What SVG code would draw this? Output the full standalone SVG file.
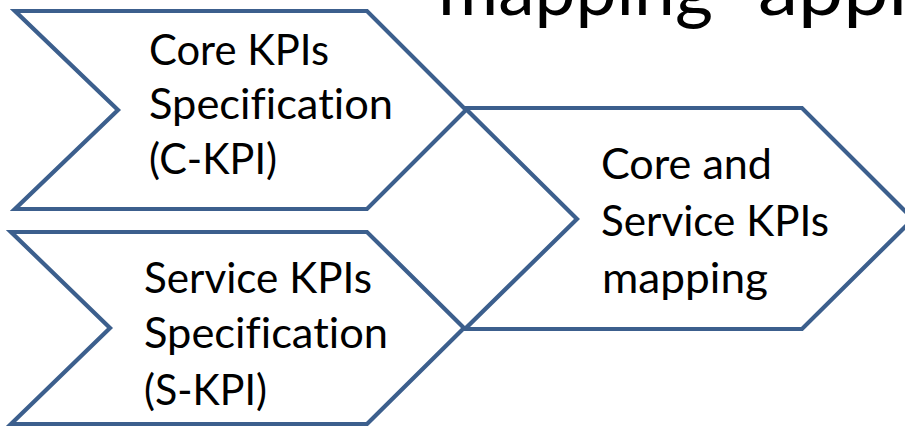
<svg xmlns="http://www.w3.org/2000/svg" width="905" height="426" viewBox="0 0 905 426">
<style>
.chev{fill:#ffffff;stroke:#3C5F8D;stroke-width:4.2;stroke-linejoin:miter}
.lbl{font-family:Lato,"Open Sans","Liberation Sans",sans-serif;font-size:42px;fill:#000000;font-variant-ligatures:none;font-feature-settings:"liga" 0}
.title{font-family:Lato,"Open Sans","Liberation Sans",sans-serif;font-size:74px;fill:#000000;font-variant-ligatures:none}
</style>
<rect width="905" height="426" fill="#ffffff"/>
<g id="title">
<text class="title" x="438" y="15" textLength="275" lengthAdjust="spacingAndGlyphs">mapping</text>
<text class="title" x="758" y="15" textLength="160" lengthAdjust="spacingAndGlyphs">appr</text>
</g>
<g id="connectors"></g>
<g id="node-ckpi">
<polygon class="chev" points="15,11 367,11 466,110 367,209 15,209 118,110"/>
<text class="lbl" x="149" y="65" textLength="180" lengthAdjust="spacingAndGlyphs">Core KPIs</text>
<text class="lbl" x="149" y="119" textLength="244" lengthAdjust="spacingAndGlyphs">Specification</text>
<text class="lbl" x="149" y="174" textLength="128" lengthAdjust="spacingAndGlyphs">(C-KPI)</text>
</g>
<g id="node-skpi">
<polygon class="chev" points="11,232 367,232 464,328 367,424 11,424 110,328"/>
<text class="lbl" x="144" y="293" textLength="228" lengthAdjust="spacingAndGlyphs">Service KPIs</text>
<text class="lbl" x="144" y="348" textLength="244" lengthAdjust="spacingAndGlyphs">Specification</text>
<text class="lbl" x="144" y="405" textLength="123" lengthAdjust="spacingAndGlyphs">(S-KPI)</text>
</g>
<g id="node-mapping">
<polygon class="chev" points="465,108 802,108 913,219 802,329 465,329 577,219"/>
<text class="lbl" x="601" y="179" textLength="171" lengthAdjust="spacingAndGlyphs">Core and</text>
<text class="lbl" x="601" y="236" textLength="228" lengthAdjust="spacingAndGlyphs">Service KPIs</text>
<text class="lbl" x="602" y="293" textLength="166" lengthAdjust="spacingAndGlyphs">mapping</text>
</g>
</svg>
